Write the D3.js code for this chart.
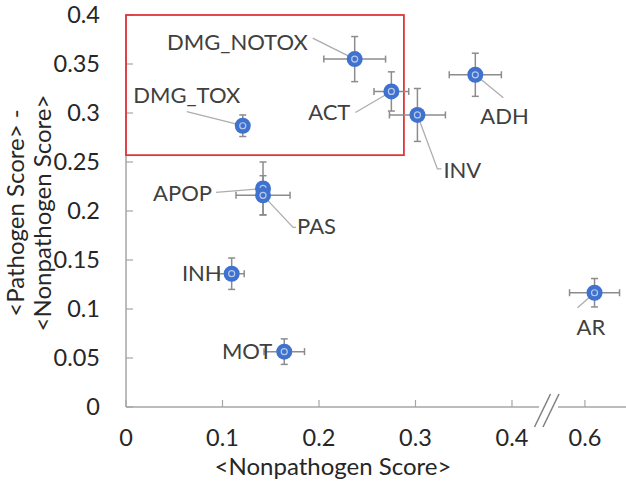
<!DOCTYPE html>
<html><head><meta charset="utf-8">
<script src="https://cdn.jsdelivr.net/npm/d3@7"></script>
<style>
html,body{margin:0;padding:0;background:#fff;}
svg{display:block;font-family:Lato,"Open Sans",sans-serif;}
</style></head>
<body>
<svg id="chart" width="626" height="483"></svg>
<script>
// ---- data ----
const names = ["DMG_NOTOX","DMG_TOX","ACT","INV","ADH","APOP","PAS","INH","MOT","AR"];
const xValues = [0.237, 0.121, 0.275, 0.302, 0.362, 0.142, 0.142, 0.1095, 0.164, 0.61];
const yValues = [0.355, 0.287, 0.322, 0.298, 0.339, 0.223, 0.216, 0.136, 0.0565, 0.1166];
const xErrors = [0.032, 0.005, 0.018, 0.029, 0.027, 0.005, 0.028, 0.013, 0.021, 0.026];
const yErrors = [0.023, 0.011, 0.020, 0.027, 0.022, 0.027, 0.020, 0.016, 0.013, 0.0145];
const xTickValues = [0, 0.1, 0.2, 0.3, 0.4, 0.6];
const xTickLabels = ["0", "0.1", "0.2", "0.3", "0.4", "0.6"];
const yTickValues = [0, 0.05, 0.1, 0.15, 0.2, 0.25, 0.3, 0.35, 0.4];
const yTickLabels = ["0", "0.05", "0.1", "0.15", "0.2", "0.25", "0.3", "0.35", "0.4"];
const xTitle = "<Nonpathogen Score>";
const yTitleLines = ["<Pathogen Score> -", "<Nonpathogen Score>"];
const highlightBox = {x0: 0, x1: 0.288, y0: 0.257, y1: 0.4};

// ---- layout (label placement relative to point, in px) ----
const labelLayout = {
  DMG_NOTOX: {tx: -47, ty: -17, anchor: "end",    leader: [[-42, -21]]},
  DMG_TOX:   {tx: -56, ty: -30, anchor: "middle", leader: [[-56, -14]]},
  ACT:       {tx: -41, ty: 21,  anchor: "end",    leader: [[-36, 21]]},
  INV:       {tx: 26,  ty: 55,  anchor: "start",  leader: [[20, 54], [24, 54]]},
  ADH:       {tx: 5,   ty: 42,  anchor: "start",  leader: [[28, 23]]},
  APOP:      {tx: -51, ty: 5,   anchor: "end",    leader: [[-47, 4]]},
  PAS:       {tx: 34,  ty: 31,  anchor: "start",  leader: [[30, 32], [33, 32]]},
  INH:       {tx: -10, ty: 0,   anchor: "end",    leader: []},
  MOT:       {tx: -12, ty: 0,   anchor: "end",    leader: []},
  AR:        {tx: -18, ty: 35,  anchor: "start",  leader: [[-17, 15]]}
};

const svg = d3.select("#chart");
const X0 = 126, Y0 = 407, Ytop = 15;
const x = d3.scaleLinear().domain([0, 0.428, 0.572, 0.65]).range([X0, 539, 558, 633]);
const y = d3.scaleLinear().domain([0, 0.4]).range([Y0, Ytop]);

const axisColor = "#a6a6a6";
const textColor = "#262626";
const labelSize = 22, tickSize = 23.5, titleSize = 24;

// axes lines
svg.append("line").attr("x1", X0).attr("x2", X0).attr("y1", y(0.4)).attr("y2", Y0)
  .attr("stroke", axisColor).attr("stroke-width", 1.5);
svg.append("line").attr("x1", X0).attr("x2", x(0.428)).attr("y1", Y0).attr("y2", Y0)
  .attr("stroke", axisColor).attr("stroke-width", 1.5);
svg.append("line").attr("x1", x(0.572)).attr("x2", 626).attr("y1", Y0).attr("y2", Y0)
  .attr("stroke", axisColor).attr("stroke-width", 1.5);
// break marks
[0, 8.5].forEach(off => {
  svg.append("line").attr("x1", 534.5 + off).attr("y1", 427).attr("x2", 550.5 + off).attr("y2", 394)
    .attr("stroke", "#7f7f7f").attr("stroke-width", 1.5);
});

// x ticks
const xAxis = svg.append("g");
xTickValues.forEach((v, i) => {
  xAxis.append("line").attr("x1", x(v)).attr("x2", x(v)).attr("y1", Y0).attr("y2", Y0 - 7)
    .attr("stroke", axisColor).attr("stroke-width", 1.2);
  xAxis.append("text").attr("x", x(v)).attr("y", 438).attr("dy", "0.35em")
    .attr("text-anchor", "middle").attr("font-size", tickSize).attr("fill", textColor)
    .text(xTickLabels[i]);
});
// y ticks
const yAxis = svg.append("g");
yTickValues.forEach((v, i) => {
  yAxis.append("line").attr("x1", X0).attr("x2", X0 + 7).attr("y1", y(v)).attr("y2", y(v))
    .attr("stroke", axisColor).attr("stroke-width", 1.2);
  yAxis.append("text").attr("x", 100).attr("y", y(v)).attr("dy", "0.35em")
    .attr("text-anchor", "end").attr("font-size", tickSize).attr("fill", textColor)
    .text(yTickLabels[i]);
});

// axis titles
svg.append("text").attr("x", 333).attr("y", 467).attr("dy", "0.35em")
  .attr("text-anchor", "middle").attr("font-size", titleSize).attr("fill", textColor).text(xTitle);
const yt = svg.append("text").attr("transform", "translate(0,213) rotate(-90)")
  .attr("text-anchor", "middle").attr("font-size", titleSize).attr("fill", textColor);
yTitleLines.forEach((t, i) => {
  yt.append("tspan").attr("x", 0).attr("y", 16 + i * 27).attr("dy", "0.35em").text(t);
});

// highlight box
svg.append("rect")
  .attr("x", x(highlightBox.x0)).attr("y", y(highlightBox.y1))
  .attr("width", x(highlightBox.x1) - x(highlightBox.x0))
  .attr("height", y(highlightBox.y0) - y(highlightBox.y1))
  .attr("fill", "none").attr("stroke", "#e0363c").attr("stroke-width", 1.8);

const data = names.map((n, i) => ({name: n, x: xValues[i], y: yValues[i], ex: xErrors[i], ey: yErrors[i]}));

// leader lines
const leaders = svg.append("g");
data.forEach(d => {
  const L = labelLayout[d.name];
  if (!L.leader.length) return;
  const px = x(d.x), py = y(d.y);
  const pts = [[px, py]].concat(L.leader.map(p => [px + p[0], py + p[1]]));
  leaders.append("path").attr("d", d3.line()(pts)).attr("fill", "none")
    .attr("stroke", "#adadad").attr("stroke-width", 1.3);
});

// error bars
const eb = svg.append("g").attr("stroke", "#8c8c8c").attr("stroke-width", 1.5);
const cap = 3.5;
data.forEach(d => {
  const px = x(d.x), py = y(d.y);
  const xl = x(d.x - d.ex), xr = x(d.x + d.ex), yt2 = y(d.y + d.ey), yb = y(d.y - d.ey);
  eb.append("line").attr("x1", xl).attr("x2", xr).attr("y1", py).attr("y2", py);
  eb.append("line").attr("x1", xl).attr("x2", xl).attr("y1", py - cap).attr("y2", py + cap);
  eb.append("line").attr("x1", xr).attr("x2", xr).attr("y1", py - cap).attr("y2", py + cap);
  eb.append("line").attr("x1", px).attr("x2", px).attr("y1", yt2).attr("y2", yb);
  eb.append("line").attr("x1", px - cap).attr("x2", px + cap).attr("y1", yt2).attr("y2", yt2);
  eb.append("line").attr("x1", px - cap).attr("x2", px + cap).attr("y1", yb).attr("y2", yb);
});

// markers
const mk = svg.append("g");
data.forEach(d => {
  const px = x(d.x), py = y(d.y);
  mk.append("circle").attr("cx", px).attr("cy", py).attr("r", 8).attr("fill", "#3f71cf");
  mk.append("circle").attr("cx", px).attr("cy", py).attr("r", 3)
    .attr("fill", "none").attr("stroke", "#b9c9ea").attr("stroke-width", 1.2);
});

// labels
const lab = svg.append("g");
data.forEach(d => {
  const L = labelLayout[d.name];
  lab.append("text").attr("x", x(d.x) + L.tx).attr("y", y(d.y) + L.ty).attr("dy", "0.35em")
    .attr("text-anchor", L.anchor).attr("font-size", labelSize).attr("fill", "#404040")
    .text(d.name);
});
</script>
</body></html>
